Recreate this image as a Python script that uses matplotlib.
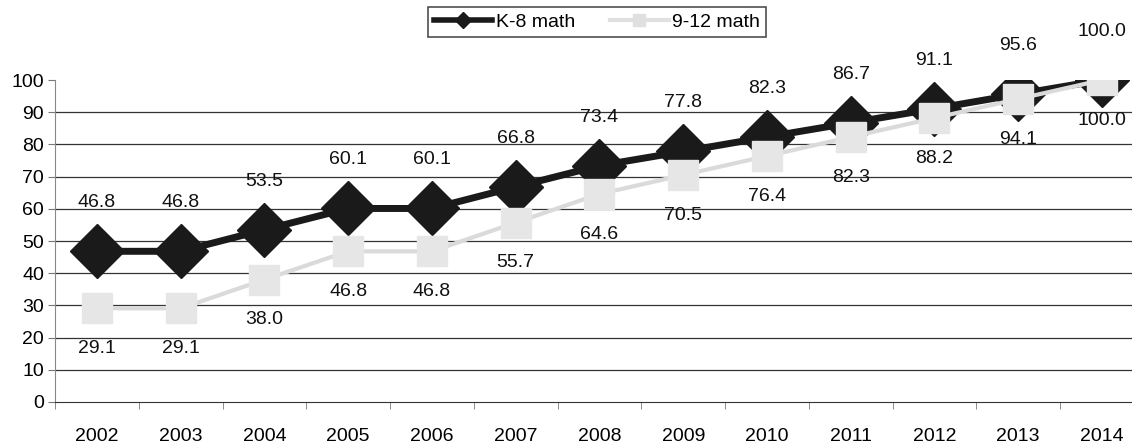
import matplotlib
matplotlib.use('Agg')
import matplotlib.pyplot as plt
from matplotlib.ticker import FixedLocator

plt.rcParams['font.family'] = ['Liberation Sans', 'DejaVu Sans']

years = ['2002', '2003', '2004', '2005', '2006', '2007', '2008',
         '2009', '2010', '2011', '2012', '2013', '2014']
k8_math = [46.8, 46.8, 53.5, 60.1, 60.1, 66.8, 73.4, 77.8, 82.3, 86.7, 91.1, 95.6, 100.0]
hs_math = [29.1, 29.1, 38.0, 46.8, 46.8, 55.7, 64.6, 70.5, 76.4, 82.3, 88.2, 94.1, 100.0]

FS = 14
W, H = 1132, 445
fig = plt.figure(figsize=(W / 100, H / 100), dpi=100)
ax = fig.add_axes([55 / W, 1 - 402 / H, (W - 55) / W, 322 / H])

x = list(range(len(years)))
ax.plot(x, k8_math, '-D', color='#1a1a1a', lw=5, ms=28, mfc='#1a1a1a', mec='#1a1a1a',
        zorder=3, label='K-8 math')
ax.plot(x, hs_math, '-s', color='#dadada', lw=3, ms=22, mfc='#e6e6e6', mec='#e6e6e6',
        zorder=4, label='9-12 math')

for xi, v in zip(x, k8_math):
    ax.annotate(f'{v:.1f}', (xi, v), xytext=(0, 35), textcoords='offset points',
                ha='center', va='center', fontsize=FS, color='#111111', zorder=5)
for xi, v in zip(x, hs_math):
    ax.annotate(f'{v:.1f}', (xi, v), xytext=(0, -29), textcoords='offset points',
                ha='center', va='center', fontsize=FS, color='#111111', zorder=5)

ax.set_xlim(-0.5, (W - 97) / 83.75)
ax.set_ylim(0, 100)
ax.set_yticks(range(0, 101, 10))
ax.set_xticks(x)
ax.set_xticklabels(years, fontsize=FS)
ax.xaxis.set_minor_locator(FixedLocator([i - 0.5 for i in range(len(years) + 1)]))
ax.tick_params(axis='x', which='major', length=0, pad=19)
ax.tick_params(axis='x', which='minor', length=5, color='#777777', direction='out')
ax.tick_params(axis='y', length=5, color='#777777', labelsize=FS, pad=3)
for yv in range(10, 100, 10):
    ax.axhline(yv, color='#333333', lw=0.9, zorder=1)
for s in ['top', 'right']:
    ax.spines[s].set_visible(False)
ax.spines['left'].set_color('#888888')
ax.spines['bottom'].set_color('#333333')

h1, = ax.plot([], [], '-D', color='#1a1a1a', lw=4, ms=8)
h2, = ax.plot([], [], '-s', color='#e0e0e0', lw=3, ms=8)
leg = fig.legend([h1, h2], ['K-8 math', '9-12 math'], loc='center', ncol=2,
                 bbox_to_anchor=(597 / W, 1 - 22 / H), fontsize=FS, frameon=True,
                 fancybox=False, handlelength=3, handletextpad=0.2, columnspacing=1.8,
                 borderpad=0.3)
leg.get_frame().set_edgecolor('#222222')
leg.get_frame().set_linewidth(1.2)

fig.savefig('out.png', dpi=100)
